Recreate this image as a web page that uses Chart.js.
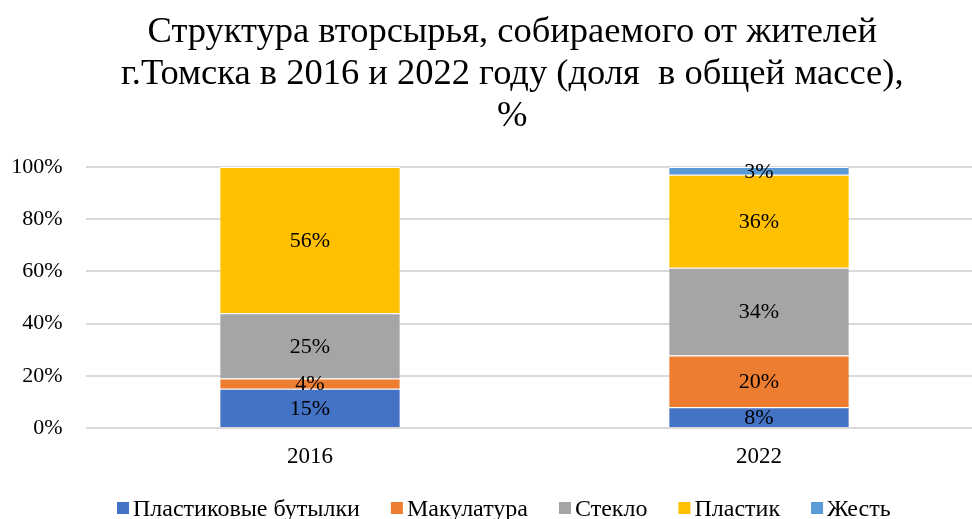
<!DOCTYPE html>
<html>
<head>
<meta charset="utf-8">
<script src="https://cdn.jsdelivr.net/npm/chart.js@4/dist/chart.umd.min.js"></script>
<style>
  html, body { margin: 0; padding: 0; background: #fff; overflow: hidden; }
  #wrap { width: 972px; height: 519px; overflow: hidden; }
</style>
</head>
<body>
<div id="wrap"><canvas id="chart" width="1013" height="519"></canvas></div>
<script>
// Chart data
const years = ['2016', '2022'];
const bottles = [15, 8];
const paper = [4, 20];
const glass = [25, 34];
const plastic = [56, 36];
const tin = [0, 3];
const yTicks = [0, 20, 40, 60, 80, 100];

const seriesNames = ['Пластиковые бутылки', 'Макулатура', 'Стекло', 'Пластик', 'Жесть'];
const seriesValues = [bottles, paper, glass, plastic, tin];
const colors = ['#4472C4', '#ED7D31', '#A5A5A5', '#FFC000', '#5B9BD5'];

// 100% stack: share of each value in the column total
const totals = years.map((_, i) => seriesValues.reduce((s, arr) => s + arr[i], 0));

const serif = '"Liberation Serif", "Times New Roman", serif';

// draws the value labels in the middle of each segment
const segmentLabels = {
    id: 'segmentLabels',
    afterDatasetsDraw(chart) {
        const ctx = chart.ctx;
        ctx.save();
        ctx.font = '22px ' + serif;
        ctx.fillStyle = '#000';
        ctx.textAlign = 'center';
        ctx.textBaseline = 'middle';
        chart.data.datasets.forEach((ds, di) => {
            const meta = chart.getDatasetMeta(di);
            meta.data.forEach((bar, i) => {
                const raw = ds.rawValues[i];
                if (!raw) return;
                ctx.fillText(raw + '%', bar.x, (bar.y + bar.base) / 2 + 1);
            });
        });
        ctx.restore();
    }
};

// legend row at the bottom, laid out like the original
const bottomLegend = {
    id: 'bottomLegend',
    afterDraw(chart) {
        const ctx = chart.ctx;
        const gap = 31;
        const box = 12;
        let x = 117;
        ctx.save();
        ctx.font = '24px ' + serif;
        ctx.textBaseline = 'alphabetic';
        chart.data.datasets.forEach(ds => {
            ctx.fillStyle = ds.backgroundColor;
            ctx.fillRect(x, 502, box, box);
            ctx.fillStyle = '#000';
            ctx.fillText(ds.label, x + box + 4, 516);
            x += box + 4 + ctx.measureText(ds.label).width + gap;
        });
        ctx.restore();
    }
};

new Chart(document.getElementById('chart'), {
    type: 'bar',
    data: {
        labels: years,
        datasets: seriesNames.map((name, k) => ({
            label: name,
            data: seriesValues[k].map((v, i) => v / totals[i] * 100),
            rawValues: seriesValues[k],
            backgroundColor: colors[k],
            borderColor: '#ffffff',
            borderWidth: { top: 1, bottom: 0, left: 0, right: 0 },
            borderSkipped: false,
            categoryPercentage: 1,
            barPercentage: 0.4
        }))
    },
    options: {
        responsive: false,
        animation: false,
        layout: { padding: { left: 11.5, right: 0, top: 11, bottom: 41 } },
        plugins: {
            title: {
                display: true,
                text: ['Структура вторсырья, собираемого от жителей',
                       'г.Томска в 2016 и 2022 году (доля  в общей массе),',
                       '%'],
                color: '#000',
                font: { family: serif, size: 36.5, weight: 'normal', lineHeight: 1.15 },
                padding: { top: 0, bottom: 30 }
            },
            legend: { display: false },
            tooltip: { enabled: false }
        },
        scales: {
            x: {
                stacked: true,
                afterFit(axis) { axis.height = 50; },
                grid: { display: false },
                border: { display: false },
                ticks: { color: '#000', font: { family: serif, size: 23 }, padding: 7 }
            },
            y: {
                stacked: true,
                min: 0,
                max: 100,
                afterBuildTicks(axis) { axis.ticks = yTicks.map(v => ({ value: v })); },
                afterFit(axis) { axis.width = 74; },
                grid: { color: '#d9d9d9', lineWidth: 2, drawTicks: false },
                border: { display: false },
                ticks: {
                    color: '#000',
                    font: { family: serif, size: 22 },
                    padding: 23,
                    callback: v => v + '%'
                }
            },
            // empty strip on the right, off-screen, so the title centre matches
            yPad: {
                position: 'right',
                afterFit(axis) { axis.width = 29.5; },
                grid: { display: false },
                border: { display: false },
                ticks: { display: false }
            }
        }
    },
    plugins: [segmentLabels, bottomLegend]
});
</script>
</body>
</html>
